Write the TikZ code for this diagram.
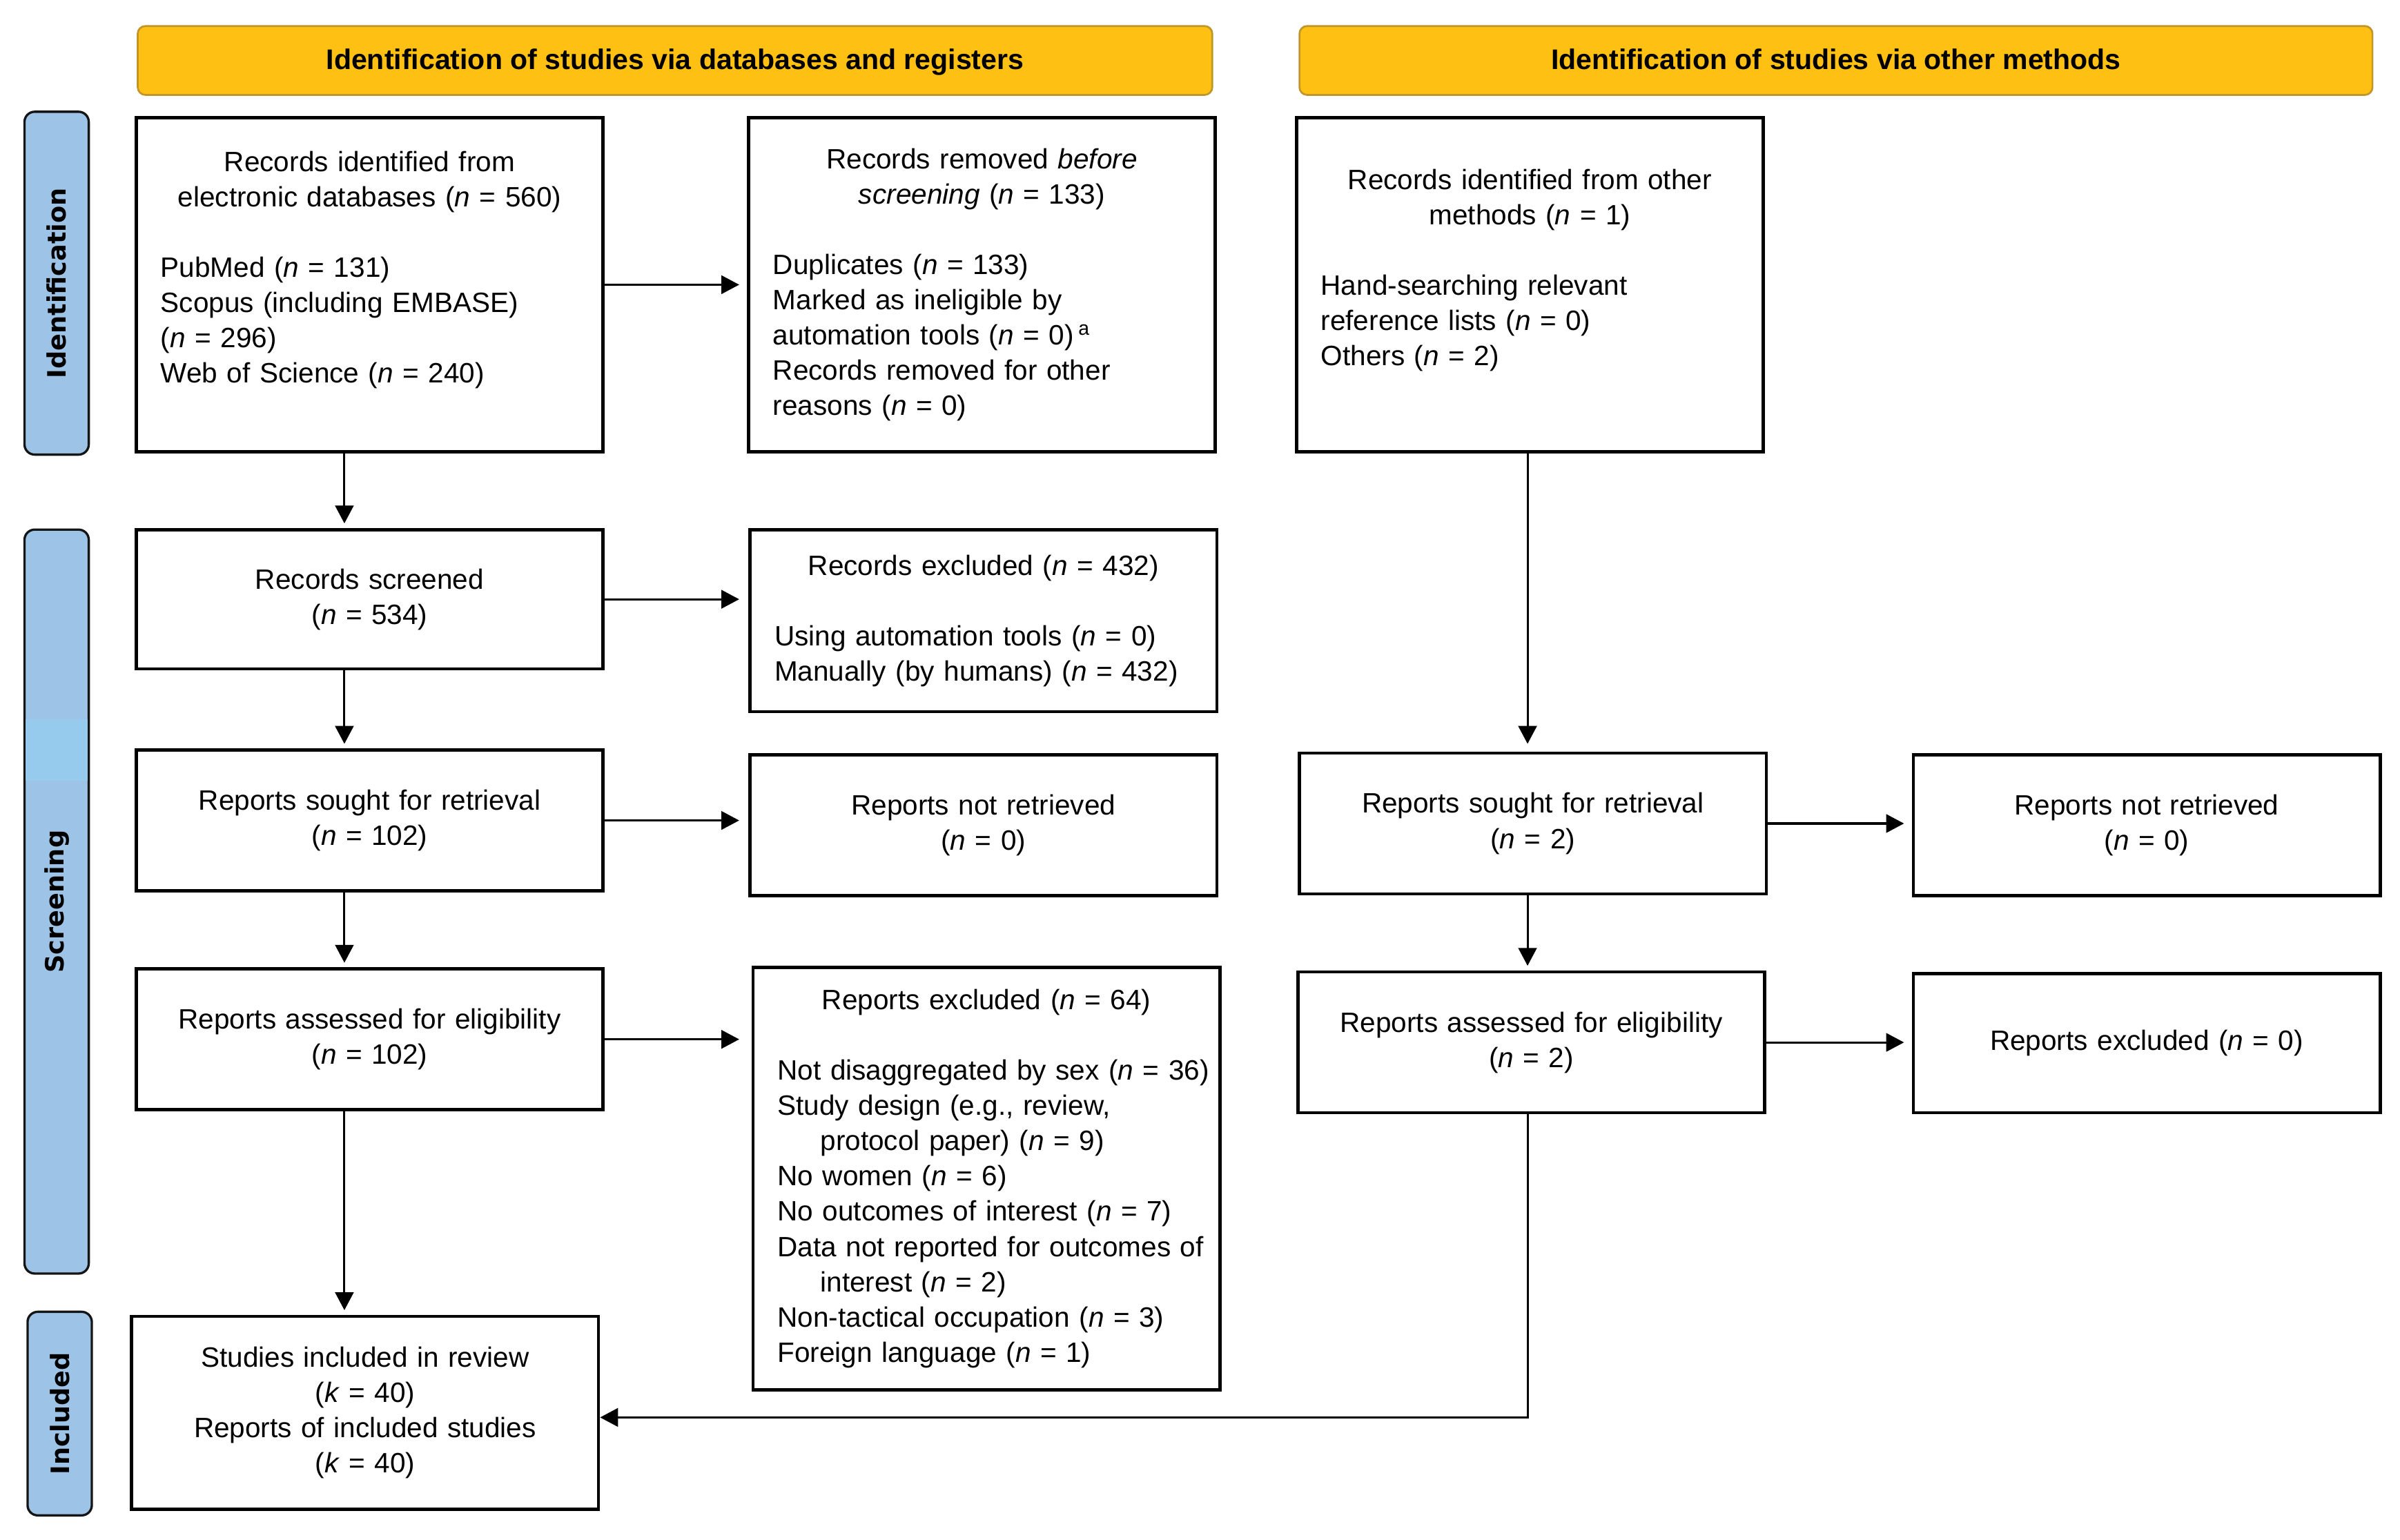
\documentclass[tikz,border=0pt]{standalone}
\usepackage{fontspec}
\setmainfont{Liberation Sans}
\newfontfamily\sidefont{DejaVu Sans}
\usetikzlibrary{arrows.meta}
\definecolor{hdrfill}{HTML}{FDC013}
\definecolor{hdrline}{HTML}{C0962A}
\definecolor{barfill}{HTML}{9DC3E6}
\definecolor{barband}{HTML}{97CBEE}
\definecolor{barline}{HTML}{151515}
\begin{document}
\begin{tikzpicture}[x=0.03cm, y=-0.03cm,
  box/.style={font=\fontsize{15.6}{19.64}\selectfont, draw, line width=0.063cm,
    inner xsep=0.48cm, inner ysep=0pt, text width=8.19cm, minimum width=9.15cm, align=left},
  hdr/.style={draw=hdrline, fill=hdrfill, line width=0.036cm, rounded corners=0.15cm,
    minimum width=21.06cm, minimum height=1.35cm, text height=1.9ex, text depth=0pt,
    font=\fontsize{15.8}{19.64}\selectfont\bfseries},
  bar/.style={draw=barline, fill=barfill, line width=0.045cm, rounded corners=0.2cm,
    minimum height=1.26cm, inner sep=0pt, rotate=90, font=\sidefont\fontsize{14.1}{17}\selectfont\bfseries},
  arr/.style={line width=0.042cm, -{Triangle[length=0.35cm,width=0.36cm]}},
]
\useasboundingbox (0,0) rectangle (1568,1006);

% headers
\node[hdr] (h1) at (441,39.5) {Identification of studies via databases and registers};
\node[hdr, minimum width=21.03cm] (h2) at (1199.5,39.5) {Identification of studies via other methods};

% side bars
\node[bar, minimum width=6.72cm] (s1) at (37,185) {Identification};
\node[bar, minimum width=14.58cm] (s2) at (37,589) {Screening};
\fill[barband] (16.9,470) rectangle (57.1,510);
\node[bar, minimum width=3.99cm] (s3) at (39,923.5) {Included};

% boxes, left column
\node[box, minimum height=6.54cm] (A) at (241.5,186) {{\centering Records identified from\\ electronic databases (\textit{n} = 560)\par}\vspace{\baselineskip}PubMed (\textit{n} = 131)\\ Scopus (including EMBASE)\\ (\textit{n} = 296)\\ Web of Science (\textit{n} = 240)\par\mbox{}};
\node[box, minimum height=6.54cm] (B) at (641.5,186) {{\centering Records removed \textit{before}\\ \textit{screening} (\textit{n} = 133)\par}\vspace{\baselineskip}Duplicates (\textit{n} = 133)\\ Marked as ineligible by\\ automation tools (\textit{n} = 0)\,\textsuperscript{a}\\ Records removed for other\\ reasons (\textit{n} = 0)};
\node[box, minimum height=6.54cm] (C) at (999.5,186) {{\centering Records identified from other\\ methods (\textit{n} = 1)\par}\vspace{\baselineskip}Hand-searching relevant\\ reference lists (\textit{n} = 0)\\ Others (\textit{n} = 2)\par\mbox{}};

\node[box, minimum height=2.73cm, align=center] (D) at (241.5,391.5) {Records screened\\ (\textit{n} = 534)};
\node[box, minimum height=3.57cm] (E) at (642.5,405.5) {{\centering Records excluded (\textit{n} = 432)\par}\vspace{\baselineskip}Using automation tools (\textit{n} = 0)\\ \mbox{Manually (by humans) (\textit{n} = 432)}};

\node[box, minimum height=2.76cm, align=center] (F) at (241.5,536) {Reports sought for retrieval\\ (\textit{n} = 102)};
\node[box, minimum height=2.76cm, align=center] (G) at (642.5,539) {Reports not retrieved\\ (\textit{n} = 0)};

\node[box, minimum height=2.76cm, align=center] (H) at (241.5,679) {Reports assessed for eligibility\\ (\textit{n} = 102)};
\node[box, minimum height=8.28cm] (I) at (644.5,770) {{\centering Reports excluded (\textit{n} = 64)\par}\vspace{\baselineskip}\mbox{Not disaggregated by sex (\textit{n} = 36)}\\ Study design (e.g., review,\\ \hspace*{0.84cm}protocol paper) (\textit{n} = 9)\\ No women (\textit{n} = 6)\\ \mbox{No outcomes of interest (\textit{n} = 7)}\\ \mbox{Data not reported for outcomes of}\\ \hspace*{0.84cm}interest (\textit{n} = 2)\\ \mbox{Non-tactical occupation (\textit{n} = 3)}\\ Foreign language (\textit{n} = 1)};

\node[box, minimum height=3.78cm, align=center] (J) at (238.5,923) {Studies included in review\\ (\textit{k} = 40)\\ Reports of included studies\\ (\textit{k} = 40)};

% boxes, right column
\node[box, minimum height=2.76cm, align=center] (K) at (1001.5,538) {Reports sought for retrieval\\ (\textit{n} = 2)};
\node[box, minimum height=2.76cm, align=center] (L) at (1402.5,539) {Reports not retrieved\\ (\textit{n} = 0)};
\node[box, minimum height=2.76cm, align=center] (M) at (1000.5,681) {Reports assessed for eligibility\\ (\textit{n} = 2)};
\node[box, minimum height=2.73cm, align=center] (N) at (1402.5,681.5) {Reports excluded (\textit{n} = 0)};

% connectors
\coordinate (XL) at (225,0);
\coordinate (XR) at (998,0);
\coordinate (bend) at (998,926);

\draw[arr, shorten >=0.15cm] (A.east) -- (A.east -| B.west);
\draw[arr, shorten >=0.18cm] (D.east) -- (D.east -| E.west);
\draw[arr, shorten >=0.18cm] (F.east) -- (F.east -| G.west);
\draw[arr, shorten >=0.24cm] (H.east) -- (H.east -| I.west);
\draw[arr, shorten >=0.15cm] (K.east) -- (K.east -| L.west);
\draw[arr, shorten >=0.15cm] (M.east) -- (M.east -| N.west);

\draw[arr, shorten >=0.09cm] (A.south -| XL) -- (D.north -| XL);
\draw[arr, shorten >=0.09cm] (D.south -| XL) -- (F.north -| XL);
\draw[arr, shorten >=0.09cm] (F.south -| XL) -- (H.north -| XL);
\draw[arr, shorten >=0.09cm] (H.south -| XL) -- (J.north -| XL);
\draw[arr, shorten >=0.15cm] (C.south -| XR) -- (K.north -| XR);
\draw[arr, shorten >=0.09cm] (K.south -| XR) -- (M.north -| XR);
\draw[arr] (M.south -| XR) -- (bend) -- (bend -| J.east);
\end{tikzpicture}
\end{document}
